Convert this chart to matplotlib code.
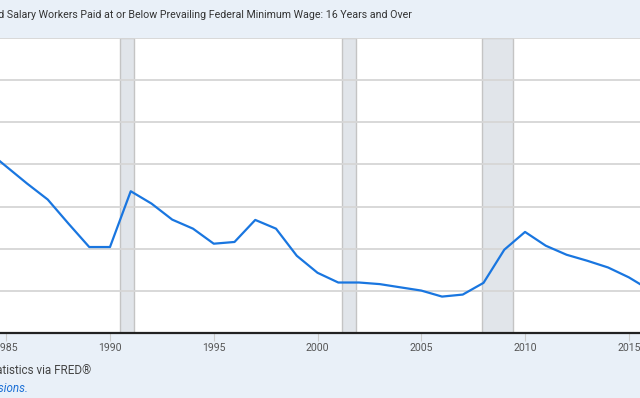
import matplotlib
matplotlib.use('Agg')
import matplotlib.pyplot as plt

# annual values (thousands)
years = list(range(1984, 2017))
workers = [5357, 4952, 4548, 4167, 3595, 3040, 3040, 4364, 4071, 3690,
           3476, 3119, 3160, 3683, 3476, 2833, 2429, 2198, 2198, 2160,
           2083, 2007, 1864, 1912, 2190, 2976, 3398, 3071, 2857, 2714,
           2555, 2321, 2024]

# recession periods (fractional years)
rec_start = [1990.5, 2001.167, 2007.917]
rec_end = [1991.167, 2001.833, 2009.417]

xticks = [1985, 1990, 1995, 2000, 2005, 2010, 2015]

title = ('Number of Hourly Paid Wage and Salary Workers Paid at or Below '
         'Prevailing Federal Minimum Wage: 16 Years and Over')
source = 'Source: U.S. Bureau of Labor Statistics via FRED\u00ae'
note = 'Shaded areas indicate U.S. recessions.'

bg = '#e9f0f8'
W, H = 640, 398

fig = plt.figure(figsize=(6.4, 3.98), dpi=100, facecolor=bg)
ax = fig.add_axes([0, (H - 333) / H, 1, (333 - 38) / H])
ax.set_facecolor('white')

for s, e in zip(rec_start, rec_end):
    ax.axvspan(s, e, facecolor='#e1e5ea', edgecolor='#c4c4c4', lw=1, zorder=1)

ax.plot(years, workers, color='#1976e0', lw=1.6, zorder=3,
        solid_joinstyle='round')

ax.set_xlim(1984.70, 2015.54)
ax.set_ylim(1000, 8000)
ax.set_yticks(range(1000, 8001, 1000))
ax.set_yticklabels([])
ax.yaxis.grid(True, color='#d6d6d6', lw=1.3, zorder=2)
ax.set_axisbelow(False)
ax.tick_params(axis='y', length=0)

ax.set_xticks(xticks)
ax.set_xticklabels([str(x) for x in xticks])
ax.tick_params(axis='x', length=6, width=0.8, color='#cccccc', pad=1,
               labelsize=7.6, labelcolor='#555555')
for lbl in ax.get_xticklabels():
    lbl.set_fontfamily('Roboto')

for side in ['top', 'left', 'right']:
    ax.spines[side].set_visible(False)
ax.spines['bottom'].set_color('#222222')
ax.spines['bottom'].set_linewidth(1.6)
ax.spines['bottom'].set_zorder(4)

fig.text(412 / W, 1 - 15 / H, title, ha='right', va='center',
         fontsize=7.7, family='Roboto', color='#333333')
fig.text(91 / W, 1 - 370 / H, source, ha='right', va='center',
         fontsize=8.4, family='Roboto', color='#444444')
fig.text(28 / W, 1 - 389 / H, note, ha='right', va='center',
         fontsize=8.4, family='Roboto', style='italic', color='#1a6fd6')

plt.savefig('out.png', dpi=100, facecolor=bg)
